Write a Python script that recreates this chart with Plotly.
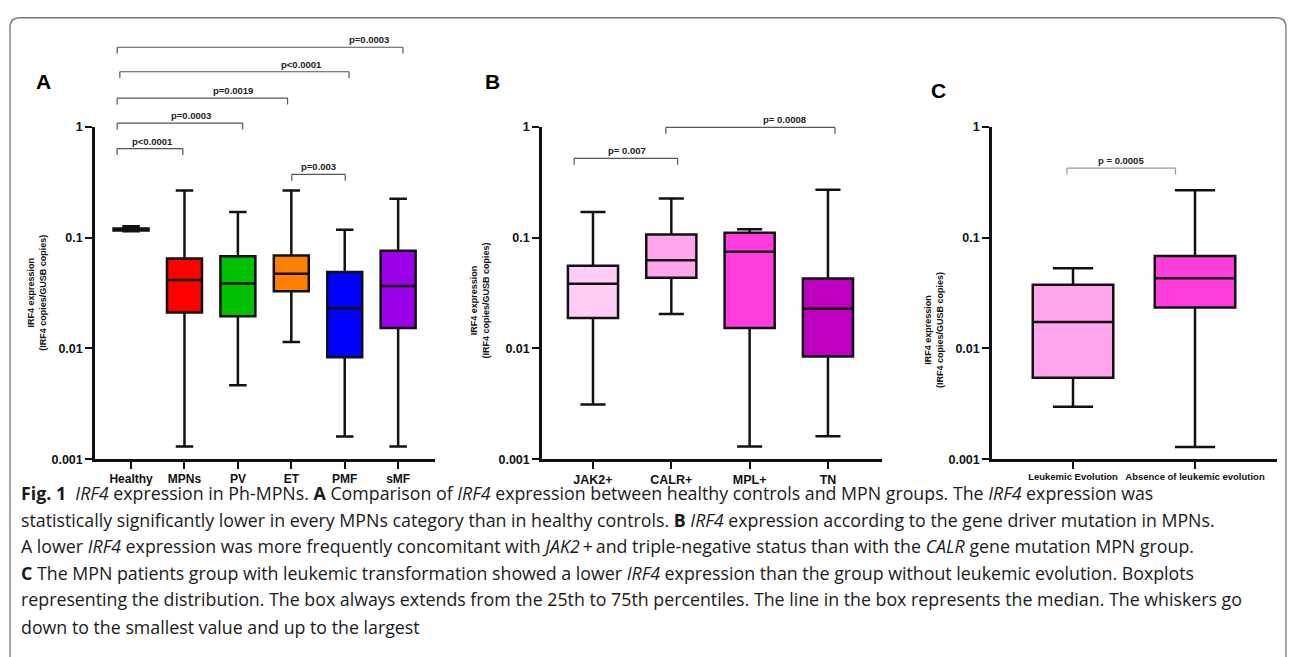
import plotly.graph_objects as go

W, H = 1292, 657

# ---------------- data ----------------
# Panel A: IRF4 expression by MPN group
a_cats = ["Healthy", "MPNs", "PV", "ET", "PMF", "sMF"]
a_min = [0.114, 0.00130, 0.00464, 0.0114, 0.00160, 0.00130]
a_q1 = [0.116, 0.0211, 0.0195, 0.0328, 0.00832, 0.0153]
a_med = [0.118, 0.0414, 0.0386, 0.0471, 0.0231, 0.0366]
a_q3 = [0.121, 0.0648, 0.0679, 0.0689, 0.0490, 0.0762]
a_max = [0.127, 0.267, 0.170, 0.267, 0.118, 0.2245]
a_colors = ["#ffffff", "#ff0000", "#00c000", "#ff7f00", "#0000ff", "#9b00e6"]

# Panel B: by driver mutation
b_cats = ["JAK2+", "CALR+", "MPL+", "TN"]
b_min = [0.00311, 0.0204, 0.00130, 0.00161]
b_q1 = [0.0188, 0.0434, 0.0153, 0.00845]
b_med = [0.0384, 0.0626, 0.0747, 0.0228]
b_q3 = [0.0557, 0.107, 0.1107, 0.0428]
b_max = [0.170, 0.226, 0.119, 0.270]
b_colors = ["#ffccf5", "#ffa6ec", "#ff3cdc", "#c000c0"]

# Panel C: by leukemic evolution
c_cats = ["Leukemic Evolution", "Absence of leukemic evolution"]
c_min = [0.00298, 0.00129]
c_q1 = [0.00544, 0.0234]
c_med = [0.0173, 0.0431]
c_q3 = [0.0376, 0.0683]
c_max = [0.0528, 0.268]
c_colors = ["#ffa6ec", "#ff3cdc"]

# y tick labels
y_tickvals = [0.001, 0.01, 0.1, 1]
y_ticktext = ["0.001", "0.01", "0.1", "1"]

# significance brackets: start/end (category index), level (log10 units above axis), label, label x
a_br_x0 = [-0.26, -0.26, -0.26, -0.21, -0.26, 3.01]
a_br_x1 = [0.97, 2.09, 2.93, 4.08, 5.09, 4.01]
a_br_lvl = [-0.196, 0.034, 0.260, 0.498, 0.719, -0.429]
a_br_txt = ["p<0.0001", "p=0.0003", "p=0.0019", "p<0.0001", "p=0.0003", "p=0.003"]
a_br_tx = [0.41, 1.12, 1.91, 3.20, 4.46, 3.50]

b_br_x0 = [-0.24, 0.93]
b_br_x1 = [1.08, 3.09]
b_br_lvl = [-0.284, -0.005]
b_br_txt = ["p= 0.007", "p= 0.0008"]
b_br_tx = [0.44, 2.45]

c_br_x0 = [-0.05]
c_br_x1 = [0.84]
c_br_lvl = [-0.372]
c_br_txt = ["p = 0.0005"]
c_br_tx = [0.39]

caption_lines = [
    "<b>Fig. 1</b>  <i>IRF4</i> expression in Ph-MPNs. <b>A</b> Comparison of <i>IRF4</i> expression between healthy controls and MPN groups. The <i>IRF4</i> expression was",
    "statistically significantly lower in every MPNs category than in healthy controls. <b>B</b> <i>IRF4</i> expression according to the gene driver mutation in MPNs.",
    "A lower <i>IRF4</i> expression was more frequently concomitant with <i>JAK2</i>\u2009+\u2009and triple-negative status than with the <i>CALR</i> gene mutation MPN group.",
    "<b>C</b> The MPN patients group with leukemic transformation showed a lower <i>IRF4</i> expression than the group without leukemic evolution. Boxplots",
    "representing the distribution. The box always extends from the 25th to 75th percentiles. The line in the box represents the median. The whiskers go",
    "down to the smallest value and up to the largest",
]

# ---------------- layout helpers ----------------
ARIAL = "Liberation Sans, Arial, sans-serif"
def px_x(p):
    return p / W
def px_y(p):
    return 1 - p / H

Y_BOT, Y_TOP = px_y(462), px_y(122.5)
def lvl_to_paper(lvl):
    return Y_BOT + (lvl + 3) / 3 * (Y_TOP - Y_BOT)

panels = [
    dict(ax="", cats=a_cats, mn=a_min, q1=a_q1, md=a_med, q3=a_q3, mx=a_max, col=a_colors,
         dom=(px_x(95), px_x(435)), rng=(-0.675, 5.69), width=0.655, tickfs=12.5, xfs=12,
         br=(a_br_x0, a_br_x1, a_br_lvl, a_br_txt, a_br_tx), brcol="#555555",
         letter="A", lpos=(43, 76), ytit=(37, 292)),
    dict(ax="2", cats=b_cats, mn=b_min, q1=b_q1, md=b_med, q3=b_q3, mx=b_max, col=b_colors,
         dom=(px_x(542), px_x(882)), rng=(-0.651, 3.69), width=0.64, tickfs=12.5, xfs=12.5,
         br=(b_br_x0, b_br_x1, b_br_lvl, b_br_txt, b_br_tx), brcol="#555555",
         letter="B", lpos=(492, 76), ytit=(480, 300)),
    dict(ax="3", cats=c_cats, mn=c_min, q1=c_q1, md=c_med, q3=c_q3, mx=c_max, col=c_colors,
         dom=(px_x(992), px_x(1277)), rng=(-0.664, 1.672), width=0.66, tickfs=12.5, xfs=9.5,
         br=(c_br_x0, c_br_x1, c_br_lvl, c_br_txt, c_br_tx), brcol="#9a9a9a",
         letter="C", lpos=(939, 85), ytit=(934, 330)),
]

fig = go.Figure()
shapes = []
annotations = []
layout = dict(
    width=W, height=H, margin=dict(l=0, r=0, t=0, b=0),
    paper_bgcolor="white", plot_bgcolor="white", showlegend=False,
    boxmode="overlay", font=dict(family=ARIAL, color="#000000"),
)

for p in panels:
    xa = "x" + p["ax"]
    ya = "y" + p["ax"]
    for i, cat in enumerate(p["cats"]):
        fig.add_trace(go.Box(
            x=[cat], q1=[p["q1"][i]], median=[p["md"][i]], q3=[p["q3"][i]],
            lowerfence=[p["mn"][i]], upperfence=[p["mx"][i]],
            fillcolor=p["col"][i], line=dict(color="#111111", width=2.5),
            width=p["width"], whiskerwidth=0.5, boxpoints=False,
            xaxis=xa, yaxis=ya, hoverinfo="y",
        ))
    layout["xaxis" + p["ax"]] = dict(
        domain=list(p["dom"]), anchor=ya, type="category", categoryorder="array",
        categoryarray=p["cats"], range=list(p["rng"]), showgrid=False, zeroline=False,
        showline=True, linecolor="#111111", linewidth=2.5, ticks="outside",
        ticklen=7, tickwidth=2, tickcolor="#111111",
        tickvals=p["cats"], ticktext=["<b>%s</b>" % c for c in p["cats"]],
        tickfont=dict(family=ARIAL, size=p["xfs"], color="#111111"),
        fixedrange=True,
    )
    layout["yaxis" + p["ax"]] = dict(
        domain=[Y_BOT, Y_TOP], anchor=xa, type="log", range=[-3, 0],
        tickvals=y_tickvals, ticktext=["<b>%s</b>" % t for t in y_ticktext],
        showgrid=False, zeroline=False, showline=True, linecolor="#111111",
        linewidth=2.5, ticks="outside", ticklen=7, tickwidth=2, tickcolor="#111111",
        tickfont=dict(family=ARIAL, size=p["tickfs"], color="#111111"),
        fixedrange=True,
    )

    # brackets
    x0s, x1s, lvls, txts, txs = p["br"]
    leg = 6.5 / H
    for x0, x1, lv, t, tx in zip(x0s, x1s, lvls, txts, txs):
        yy = lvl_to_paper(lv)
        for (sx0, sy0, sx1, sy1) in [(x0, yy - leg, x0, yy), (x0, yy, x1, yy), (x1, yy, x1, yy - leg)]:
            shapes.append(dict(type="line", xref=xa, yref="paper", x0=sx0, y0=sy0, x1=sx1, y1=sy1,
                               line=dict(color=p["brcol"], width=1.2)))
        annotations.append(dict(xref=xa, yref="paper", x=tx, y=yy, yanchor="bottom",
                                xanchor="center", text="<b>%s</b>" % t, showarrow=False,
                                font=dict(family=ARIAL, size=9.5, color="#222222"), yshift=0))
    # panel letter
    annotations.append(dict(xref="paper", yref="paper", x=px_x(p["lpos"][0]), y=px_y(p["lpos"][1]),
                            xanchor="center", yanchor="middle", text="<b>%s</b>" % p["letter"],
                            showarrow=False, font=dict(family=ARIAL, size=21, color="#000000")))
    # y axis title
    annotations.append(dict(xref="paper", yref="paper", x=px_x(p["ytit"][0]), y=px_y(p["ytit"][1]),
                            xanchor="center", yanchor="middle", textangle=-90,
                            text="<b>IRF4 expression<br>(IRF4 copies/GUSB copies)</b>",
                            showarrow=False, font=dict(family=ARIAL, size=9, color="#111111")))

# caption
cap_y = [497, 524, 551, 578, 605, 633]
for line, yy in zip(caption_lines, cap_y):
    annotations.append(dict(xref="paper", yref="paper", x=px_x(19), y=px_y(yy),
                            xanchor="left", yanchor="middle", text=line, showarrow=False,
                            font=dict(family="Open Sans, sans-serif", size=17.8, color="#1a1a1a")))

# rounded frame
fx0, fx1, fy0 = 10, 1286, 11
r = 10
path = ("M {a},{b} L {a},{c} Q {a},{d} {e},{d} L {f},{d} Q {g},{d} {g},{c} L {g},{b}").format(
    a=px_x(fx0), b=-0.02, c=px_y(fy0 + r), d=px_y(fy0), e=px_x(fx0 + r), f=px_x(fx1 - r), g=px_x(fx1))
shapes.append(dict(type="path", xref="paper", yref="paper", path=path,
                   line=dict(color="#777777", width=1.3)))

layout["shapes"] = shapes
layout["annotations"] = annotations
fig.update_layout(**layout)
fig.write_html("out.html", config={"displayModeBar": False},
               post_script="document.body.style.margin='0';")
